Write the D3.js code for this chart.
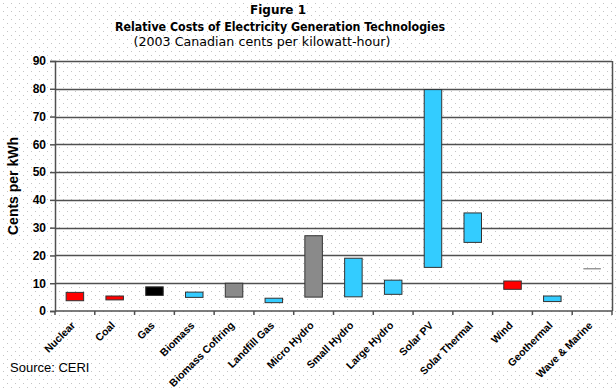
<!DOCTYPE html>
<html>
<head>
<meta charset="utf-8">
<script src="https://cdn.jsdelivr.net/npm/d3@7"></script>
<style>
  body { margin: 0; background: #fff; }
  svg { display: block; }
</style>
</head>
<body>
<svg id="chart" width="616" height="388"></svg>
<script>
// data (cents per kWh, low and high)
var categories = ["Nuclear", "Coal", "Gas", "Biomass", "Biomass Cofiring", "Landfill Gas",
  "Micro Hydro", "Small Hydro", "Large Hydro", "Solar PV", "Solar Thermal", "Wind",
  "Geothermal", "Wave & Marine"];
var lowValues  = [3.7, 4.0, 5.6, 4.9, 5.0, 3.0, 5.0, 5.1, 6.0, 15.7, 24.7, 7.8, 3.4, 15.1];
var highValues = [6.7, 5.4, 8.7, 6.8, 10.0, 4.6, 27.1, 19.0, 11.1, 79.7, 35.3, 10.8, 5.4, 15.3];
var groups = ["red", "red", "black", "blue", "gray", "blue", "gray", "blue", "blue",
  "blue", "blue", "red", "blue", "line"];
var yTicks = [0, 10, 20, 30, 40, 50, 60, 70, 80, 90];

var colors = { red: "#ff0000", black: "#000000", blue: "#33ccff", gray: "#8a8a8a", line: "#808080" };

var svg = d3.select("#chart");
var width = +svg.attr("width");
var height = +svg.attr("height");

// dotted background
var defs = svg.append("defs");
var pat = defs.append("pattern")
    .attr("id", "dots")
    .attr("width", 8).attr("height", 8)
    .attr("patternUnits", "userSpaceOnUse");
pat.append("rect").attr("x", 3).attr("y", 3).attr("width", 1).attr("height", 1).attr("fill", "#c4c4c4");
pat.append("rect").attr("x", 7).attr("y", 7).attr("width", 1).attr("height", 1).attr("fill", "#c4c4c4");

svg.append("rect").attr("width", width).attr("height", height).attr("fill", "#fff");
svg.append("rect").attr("width", width).attr("height", height).attr("fill", "url(#dots)");

var margin = { left: 55, right: 4, top: 61, bottom: 77 };

var x = d3.scaleBand().domain(categories).range([margin.left, width - margin.right]);
var y = d3.scaleLinear().domain([0, 90]).range([height - margin.bottom, margin.top]);

// titles
svg.append("text").attr("x", 278).attr("y", 14)
    .attr("text-anchor", "middle")
    .style("font", "bold 12px 'DejaVu Sans', sans-serif")
    .text("Figure 1");
svg.append("text").attr("x", 280).attr("y", 31)
    .attr("text-anchor", "middle")
    .attr("textLength", 330).attr("lengthAdjust", "spacingAndGlyphs")
    .style("font", "bold 13px 'DejaVu Sans', sans-serif")
    .text("Relative Costs of Electricity Generation Technologies");
svg.append("text").attr("x", 262).attr("y", 46)
    .attr("text-anchor", "middle")
    .attr("textLength", 257).attr("lengthAdjust", "spacingAndGlyphs")
    .style("font", "13px 'DejaVu Sans', sans-serif")
    .text("(2003 Canadian cents per kilowatt-hour)");

// gridlines
svg.append("g")
  .selectAll("line")
  .data(yTicks.filter(function(d) { return d > 0; }))
  .enter().append("line")
    .attr("x1", margin.left).attr("x2", width - margin.right)
    .attr("y1", function(d) { return Math.round(y(d)) + 0.5; })
    .attr("y2", function(d) { return Math.round(y(d)) + 0.5; })
    .attr("stroke", "#505050").attr("stroke-width", 1.5);

// right border
svg.append("line")
    .attr("x1", width - margin.right + 0.5).attr("x2", width - margin.right + 0.5)
    .attr("y1", y(90)).attr("y2", y(0))
    .attr("stroke", "#505050").attr("stroke-width", 1.5);

// bars
var barW = x.bandwidth() * 0.44;
var rangeData = categories.map(function(c, i) {
  return { name: c, lo: lowValues[i], hi: highValues[i], group: groups[i] };
});

svg.append("g")
  .selectAll("rect")
  .data(rangeData.filter(function(d) { return d.group !== "line"; }))
  .enter().append("rect")
    .attr("x", function(d) { return x(d.name) + (x.bandwidth() - barW) / 2; })
    .attr("y", function(d) { return y(d.hi); })
    .attr("width", barW)
    .attr("height", function(d) { return y(d.lo) - y(d.hi); })
    .attr("fill", function(d) { return colors[d.group]; })
    .attr("stroke", "#333")
    .attr("stroke-width", 1);

svg.append("g")
  .selectAll("line")
  .data(rangeData.filter(function(d) { return d.group === "line"; }))
  .enter().append("line")
    .attr("x1", function(d) { return x(d.name) + (x.bandwidth() - barW) / 2; })
    .attr("x2", function(d) { return x(d.name) + (x.bandwidth() + barW) / 2; })
    .attr("y1", function(d) { return y((d.lo + d.hi) / 2); })
    .attr("y2", function(d) { return y((d.lo + d.hi) / 2); })
    .attr("stroke", colors.line).attr("stroke-width", 1.2);

// axes
var yAxis = d3.axisLeft(y).tickValues(yTicks).tickSize(5).tickPadding(4);
var gy = svg.append("g")
    .attr("transform", "translate(" + margin.left + ",0)")
    .call(yAxis);
gy.select(".domain").attr("stroke", "#505050").attr("stroke-width", 1.5);
gy.selectAll(".tick line").attr("stroke", "#505050").attr("stroke-width", 1.5);
gy.selectAll("text")
    .style("font", "bold 12px 'Liberation Sans', Arial, sans-serif")
    .attr("fill", "#000");

var tickPos = d3.range(categories.length + 1).map(function(i) { return margin.left + i * x.step(); });
var gx = svg.append("g");
gx.append("line")
    .attr("x1", margin.left).attr("x2", width - margin.right)
    .attr("y1", y(0)).attr("y2", y(0))
    .attr("stroke", "#505050").attr("stroke-width", 1.5);
gx.selectAll("line.tk")
  .data(tickPos)
  .enter().append("line")
    .attr("class", "tk")
    .attr("x1", function(d) { return d; }).attr("x2", function(d) { return d; })
    .attr("y1", y(0)).attr("y2", y(0) + 4)
    .attr("stroke", "#505050").attr("stroke-width", 1.5);
gx.selectAll("text")
  .data(categories)
  .enter().append("text")
    .attr("transform", function(d) {
      return "translate(" + (x(d) + x.bandwidth() / 2 + 1) + "," + (y(0) + 15) + ") rotate(-45)";
    })
    .attr("text-anchor", "end")
    .style("font", "bold 10.5px 'Liberation Sans', Arial, sans-serif")
    .text(function(d) { return d; });

// y axis title
svg.append("text")
    .attr("transform", "translate(18,186) rotate(-90)")
    .attr("text-anchor", "middle")
    .style("font", "bold 14px 'Liberation Sans', Arial, sans-serif")
    .text("Cents per kWh");

// source
svg.append("text").attr("x", 10).attr("y", 372)
    .style("font", "13px 'Liberation Sans', Arial, sans-serif")
    .text("Source: CERI");
</script>
</body>
</html>
